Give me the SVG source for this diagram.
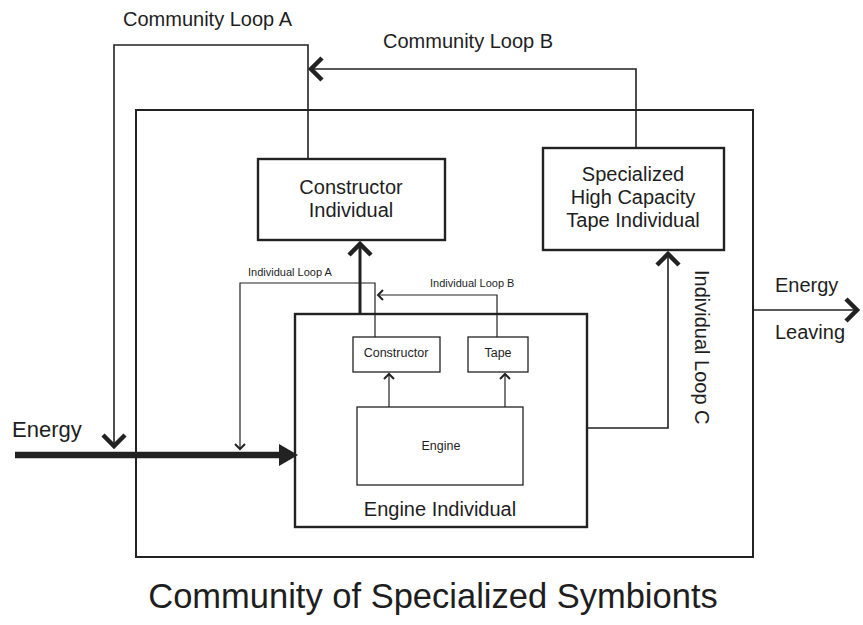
<svg xmlns="http://www.w3.org/2000/svg" width="863" height="625" viewBox="0 0 863 625">
  <style>
    text { font-family: "Liberation Sans", Arial, sans-serif; fill: #1e1e1e; }
    .lbl { font-size: 20px; }
    .sm { font-size: 11px; }
    .in { font-size: 12.5px; }
    .mid { text-anchor: middle; }
    .wire { fill: none; stroke: #222; stroke-width: 1.6; }
    .thin { fill: none; stroke: #222; stroke-width: 1.2; }
    .thick { fill: none; stroke: #222; stroke-width: 3; }
    .box { fill: none; stroke: #222; stroke-width: 2.4; }
    .sbox { fill: none; stroke: #222; stroke-width: 1.3; }
  </style>
  <defs>
    <marker id="chev" viewBox="-16 -14 20 28" refX="0" refY="0" markerWidth="20" markerHeight="28" markerUnits="userSpaceOnUse" orient="auto">
      <path d="M-11,-11 L0,0 L-11,11" fill="none" stroke="#222" stroke-width="4.5" stroke-linecap="butt"/>
    </marker>
    <marker id="tick" viewBox="-8 -7 10 14" refX="0" refY="0" markerWidth="10" markerHeight="14" markerUnits="userSpaceOnUse" orient="auto">
      <path d="M-5,-5 L0,0 L-5,5" fill="none" stroke="#222" stroke-width="2"/>
    </marker>
    <marker id="tri" viewBox="-8 -12 22 24" refX="-5" refY="0" markerWidth="22" markerHeight="24" markerUnits="userSpaceOnUse" orient="auto">
      <path d="M-5,-11 L14,0 L-5,11 Z" fill="#222"/>
    </marker>
  </defs>

  <rect width="863" height="625" fill="#fff"/>

  <!-- community boundary -->
  <rect id="community" x="136" y="110" width="617" height="447" fill="none" stroke="#222" stroke-width="2"/>

  <g id="constructor-individual">
    <rect class="box" x="258" y="159" width="187" height="81"/>
    <text class="lbl mid" x="351" y="194">Constructor</text>
    <text class="lbl mid" x="351" y="217">Individual</text>
  </g>

  <g id="tape-individual">
    <rect class="box" x="543" y="148" width="181" height="102"/>
    <text class="lbl mid" x="633" y="181">Specialized</text>
    <text class="lbl mid" x="633" y="204">High Capacity</text>
    <text class="lbl mid" x="633" y="227">Tape Individual</text>
  </g>

  <g id="engine-individual">
    <rect class="box" x="295" y="314" width="292" height="213"/>
    <text class="lbl mid" x="440" y="516">Engine Individual</text>
  </g>

  <g id="constructor">
    <rect class="sbox" x="353" y="337" width="87" height="35"/>
    <text class="in mid" x="396" y="357">Constructor</text>
  </g>

  <g id="tape">
    <rect class="sbox" x="468" y="337" width="60" height="35"/>
    <text class="in mid" x="498" y="357">Tape</text>
  </g>

  <g id="engine">
    <rect class="sbox" x="357" y="407" width="166" height="78"/>
    <text class="in mid" x="441" y="450">Engine</text>
  </g>

  <g id="connectors">
    <!-- Community Loop A -->
    <path class="wire" d="M308,159 V45 H114 V446" marker-end="url(#chev)"/>
    <!-- Community Loop B -->
    <path class="wire" d="M636,147 V69 H311" marker-end="url(#chev)"/>
    <!-- Engine Individual to Constructor Individual -->
    <path class="thick" d="M360,313 V244" marker-end="url(#chev)"/>
    <!-- Individual Loop C -->
    <path class="wire" d="M587,428 H668 V254" marker-end="url(#chev)"/>
    <!-- Energy leaving -->
    <path class="wire" d="M753,310 H857" marker-end="url(#chev)"/>
    <!-- Energy entering -->
    <path d="M15,455 H279" fill="none" stroke="#222" stroke-width="6.5" marker-end="url(#tri)"/>
    <!-- Individual Loop A -->
    <path class="thin" d="M375,337 V283 H240 V449" marker-end="url(#tick)"/>
    <!-- Individual Loop B -->
    <path class="thin" d="M497,337 V295 H378" marker-end="url(#tick)"/>
    <!-- Engine to Constructor and Tape -->
    <path class="thin" d="M389,407 V374" marker-end="url(#tick)"/>
    <path class="thin" d="M505,407 V374" marker-end="url(#tick)"/>
  </g>

  <!-- loop and flow labels -->
  <text class="lbl" x="123" y="26">Community Loop A</text>
  <text class="lbl" x="383" y="48">Community Loop B</text>
  <text class="sm" x="248" y="276">Individual Loop A</text>
  <text class="sm" x="430" y="287">Individual Loop B</text>
  <text class="lbl" transform="translate(695,270) rotate(90)">Individual Loop C</text>
  <text x="12" y="437" style="font-size:22px">Energy</text>
  <text class="lbl" x="775" y="292">Energy</text>
  <text class="lbl" x="775" y="339">Leaving</text>

  <text class="mid" x="433" y="608" style="font-size:34.5px">Community of Specialized Symbionts</text>
</svg>
